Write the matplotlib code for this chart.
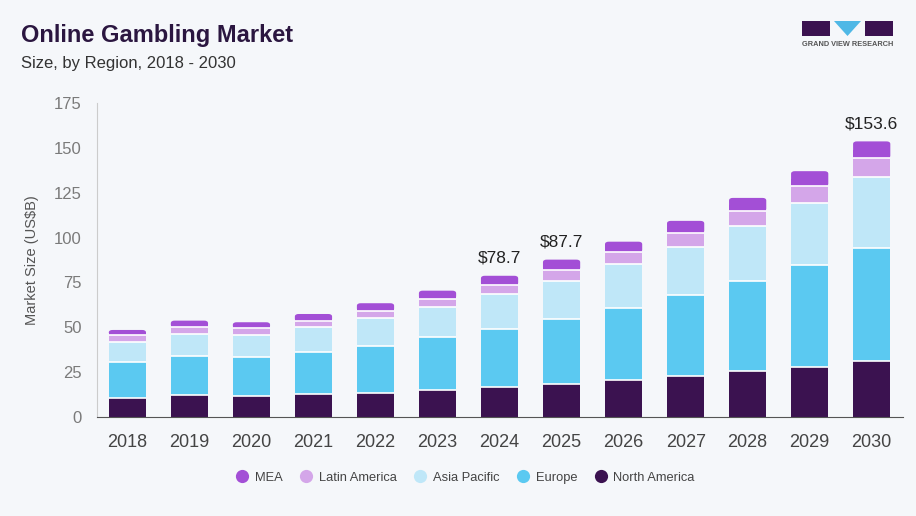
import numpy as np
import matplotlib.pyplot as plt
from matplotlib.patches import Rectangle, Polygon, FancyBboxPatch
from matplotlib.lines import Line2D

plt.rcParams['font.family'] = ['Liberation Sans', 'DejaVu Sans']

# data (US$ billion)
years = ['2018', '2019', '2020', '2021', '2022', '2023', '2024',
         '2025', '2026', '2027', '2028', '2029', '2030']
north_america = [10.8, 12.1, 11.5, 12.7, 13.5, 15.2, 16.7, 18.2, 20.5, 22.7, 25.5, 28.0, 31.0]
europe = [19.7, 21.7, 21.9, 23.4, 26.1, 29.2, 32.2, 36.3, 40.1, 45.1, 50.3, 56.6, 63.4]
asia_pacific = [11.3, 12.5, 12.5, 14.1, 15.4, 16.7, 19.7, 21.5, 24.7, 27.0, 30.8, 34.7, 39.2]
latin_america = [3.9, 3.7, 3.5, 3.1, 4.1, 4.8, 4.8, 5.8, 6.5, 7.6, 8.1, 9.3, 10.6]
mea = [2.8, 3.7, 3.4, 4.1, 4.3, 4.5, 5.3, 5.9, 5.9, 6.9, 7.4, 8.4, 9.4]
labelled_years = ['2024', '2025', '2030']

series = [
    ('North America', north_america, '#3b1250'),
    ('Europe', europe, '#5bc9f1'),
    ('Asia Pacific', asia_pacific, '#bfe7f8'),
    ('Latin America', latin_america, '#d4a6e9'),
    ('MEA', mea, '#a34fd6'),
]

bg = '#f5f7fa'
fig = plt.figure(figsize=(9.16, 5.16), dpi=100, facecolor=bg)
ax = fig.add_axes([0.1059, 0.1919, 0.9855 - 0.1059, 0.8004 - 0.1919])
ax.set_facecolor(bg)

x = np.arange(len(years))
width = 0.6
bottom = np.zeros(len(years))
for name, vals, color in series:
    vals = np.array(vals)
    if name == 'MEA':
        # top segment with rounded upper corners
        for xi, yb, h in zip(x, bottom, vals):
            r = 1.6
            patch = FancyBboxPatch((xi - width / 2 + 0.06, yb + r * 0.9), width - 0.12, h - r * 1.8,
                                   boxstyle='round,pad=0.06', mutation_aspect=r / 0.06 * 0.9,
                                   facecolor=color, edgecolor='none')
            ax.add_patch(patch)
            ax.add_patch(Rectangle((xi - width / 2, yb), width, h * 0.5,
                                   facecolor=color, edgecolor='none'))
    else:
        ax.bar(x, vals, width, bottom=bottom, color=color,
               edgecolor='none', linewidth=0)
    bottom = bottom + vals
    if name != 'MEA':
        # thin white separator on top of each segment
        ax.hlines(bottom, x - width / 2, x + width / 2, colors='white', linewidth=1.2, zorder=3)

totals = bottom
for xi, yr, tot in zip(x, years, totals):
    if yr in labelled_years:
        ax.text(xi, tot + 5.5, f'${tot:.1f}', ha='center', va='bottom',
                fontsize=12.5, color='#222222')

ax.set_xlim(-0.49, 12.5)
ax.set_ylim(0, 175)
ax.set_xticks(x)
ax.set_xticklabels(years, fontsize=13, color='#444444')
ax.set_yticks(np.arange(0, 176, 25))
ax.tick_params(axis='y', labelsize=12, labelcolor='#7a7a7a', length=0, pad=11)
ax.tick_params(axis='x', length=0, pad=12)
for s in ['top', 'right']:
    ax.spines[s].set_visible(False)
ax.spines['left'].set_color('#cccccc')
ax.spines['bottom'].set_color('#555555')
ax.set_ylabel('Market Size (US$B)', fontsize=10.5, color='#555555', labelpad=11)

# legend with round markers, order as in reference
order = ['MEA', 'Latin America', 'Asia Pacific', 'Europe', 'North America']
colors = {n: c for n, _, c in series}
leg_handles = [Line2D([], [], marker='o', linestyle='', markersize=9.5,
                      markerfacecolor=colors[n], markeredgecolor='none') for n in order]
fig.legend(leg_handles, order, loc='center', bbox_to_anchor=(0.508, 0.074), ncol=5,
           frameon=False, fontsize=9.3, labelcolor='#444444', handlelength=1.0,
           handletextpad=0.5, columnspacing=1.3)

# titles
fig.text(0.023, 0.932, 'Online Gambling Market', fontsize=17, fontweight='bold',
         color='#2b1640', va='center')
fig.text(0.023, 0.876, 'Size, by Region, 2018 - 2030', fontsize=12,
         color='#333333', va='center')

# logo
lx = fig.add_axes([800 / 916, 1 - 37 / 516, 95 / 916, 17 / 516])
lx.set_xlim(0, 95)
lx.set_ylim(0, 17)
lx.axis('off')
lx.add_patch(Rectangle((2, 1), 28, 15, facecolor='#3b1250'))
lx.add_patch(Polygon([[34, 16], [61, 16], [47.5, 1]], closed=True, facecolor='#4fb8e6'))
lx.add_patch(Rectangle((65, 1), 28, 15, facecolor='#3b1250'))
fig.text(848 / 916, 1 - 45 / 516, 'GRAND VIEW RESEARCH', fontsize=5.3, fontweight='bold',
         color='#555555', ha='center', va='center')

fig.savefig('out.png', dpi=100, facecolor=bg)
